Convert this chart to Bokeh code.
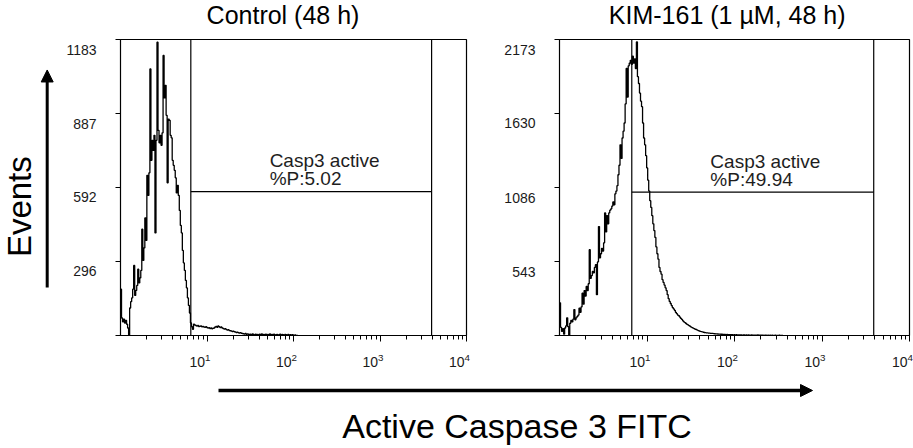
import numpy as np
from bokeh.plotting import figure
from bokeh.layouts import row, column
from bokeh.models import (Range1d, FixedTicker, Label, LogScale, LogAxis, LinearAxis,
                          Arrow, NormalHead, Span, CustomJSTickFormatter, LogTickFormatter)
from bokeh.embed import file_html
from bokeh.resources import INLINE

FONT = "Liberation Sans"

# ---------------- data ----------------
CHANNELS_PER_DECADE = 256   # 1024 channels over 4 decades
CHANNELS_PER_BIN = 3

panel_titles = ["Control (48 h)", "KIM-161 (1 µM, 48 h)"]
y_label = "Events"
x_label = "Active Caspase 3 FITC"
gate_name = "Casp3 active"
gate_pct = ["%P:5.02", "%P:49.94"]

ctrl_counts = [
    185, 70, 55, 65, 50, 60, 45, 30, 0, 110,
    135, 150, 185, 280, 160, 180, 200, 265, 210, 230,
    260, 425, 300, 350, 470, 380, 640, 560, 650, 1065,
    700, 780, 740, 800, 410, 780, 1172, 820, 770, 800,
    760, 810, 1119, 950, 1000, 880, 610, 865, 860, 800,
    790, 700, 680, 660, 630, 570, 600, 560, 500, 440,
    410, 340, 290, 260, 220, 190, 150, 120, 90, 50,
    35, 25,
    45, 42, 40, 38, 40, 36, 37,
    38, 35, 36, 34, 33, 35, 32,
    30, 31, 28, 30, 27, 29, 30,
    34, 36, 33, 38, 35, 32, 34,
    30, 28, 26, 27, 24, 22, 23,
    20, 19, 18, 16, 17, 15, 14,
    12, 13, 11, 10, 11, 9, 8,
    7, 6, 8, 5, 6, 5, 4,
    5, 3, 6, 4, 2, 5, 3,
    4, 2, 5, 3, 6, 2, 4,
    3, 5, 2, 4, 3, 6, 2,
    4, 3, 5, 2, 3, 4, 2,
    3, 5, 2, 4, 3, 2, 4,
    3, 2, 4, 2, 3, 2, 3,
    2, 1, 2, 0, 0,
]

kim_counts = [
    240, 60, 30, 50, 10, 55, 70, 130, 65, 0,
    90, 110, 100, 120, 190, 115, 130, 140, 150, 200,
    170, 210, 310, 230, 330, 290, 360, 330, 380, 630,
    420, 440, 470, 460, 500, 520, 300, 540, 800, 570,
    600, 640, 620, 680, 900, 760, 880, 820, 900, 920,
    930, 950, 980, 960, 1040, 1060, 1100, 1180, 1250, 1400,
    1300, 1450, 1500, 1560, 1700, 1960, 1750, 1980, 2000, 2020,
    1990, 2050, 2000, 2030, 1960, 2155, 1900, 1850, 1780, 1720,
    1680, 1560, 1450, 1400, 1320, 1230, 1140, 1060, 990, 940,
    880, 820, 770, 720, 650, 600, 560, 500, 470, 450,
    410, 390, 370, 350, 330, 300,
    270, 250, 235, 220, 205, 195, 185,
    170, 160, 150, 145, 135, 125, 118,
    108, 100, 95, 88, 82, 78, 72,
    68, 62, 58, 54, 50, 46, 44,
    40, 36, 33, 30, 28, 26, 24,
    22, 21, 20, 19, 18, 17, 16,
    15, 15, 14, 13, 12, 12, 11,
    10, 10, 9, 9, 8, 8, 8,
    7, 8, 6, 7, 6, 7, 6,
    5, 6, 5, 6, 4, 5, 4,
    5, 4, 3, 5, 4, 3, 4,
    3, 4, 2, 3, 4, 2, 3,
    2, 3, 2, 4, 2, 3, 2,
    3, 2, 1, 3, 2, 1, 2,
    1, 2, 0, 2, 1, 0, 2,
    1, 0, 1, 2, 0, 1, 0,
]

ctrl_y_ticks = [296, 592, 887, 1183]
kim_y_ticks = [543, 1086, 1630, 2173]

x_tick_values = [10, 100, 1000, 10000]

# gate: (left edge, right edge, marker height in events)
ctrl_gate = (6.5, 3950, 575)
kim_gate = (6.7, 3900, 1052)

# ---------------- layout constants ----------------
ROW_H = 340
B_TOP = 9
B_BOTTOM = 35
FRAME_H = ROW_H - B_TOP - B_BOTTOM
GATE_TEXT_X = 53.0
YLAB_DROP_PX = 10      # tick labels sit a little below their ticks
XLAB_SHIFT_PX = 7      # and a little left of them


def strip(width, height):
    s = figure(width=width, height=height, x_range=Range1d(0, width),
               y_range=Range1d(0, height), x_axis_type=None, y_axis_type=None,
               toolbar_location=None, output_backend="svg", title=None, min_border=0)
    s.outline_line_color = None
    s.background_fill_color = "white"
    s.border_fill_color = "white"
    return s


def make_panel(counts, yticks, gate, pct, width, b_left, b_right):
    ymax = yticks[-1]
    p = figure(width=width, height=ROW_H, x_axis_type="log",
               x_range=Range1d(1, 1e4), y_range=Range1d(0, ymax),
               toolbar_location=None, output_backend="svg", title=None,
               min_border_left=b_left, min_border_right=b_right,
               min_border_top=B_TOP, min_border_bottom=B_BOTTOM)
    p.grid.visible = False
    p.background_fill_color = "white"
    p.border_fill_color = "white"
    p.outline_line_color = "black"
    p.outline_line_width = 1.2
    frame_w = width - b_left - b_right
    px_per_dec = frame_w / 4.0

    decades = [1, 10, 100, 1000, 10000]
    minors = [m * d for d in decades[:-1] for m in range(2, 10)]
    blank = CustomJSTickFormatter(code="return ''")

    # tick-only axes
    xa = p.xaxis[0]
    xa.ticker = FixedTicker(ticks=decades[1:], minor_ticks=minors)
    xa.formatter = blank
    xa.major_label_text_font_size = "1px"
    xa.major_label_standoff = 0
    xa.major_tick_in = 0
    xa.major_tick_out = 6
    xa.minor_tick_in = 0
    xa.minor_tick_out = 4
    xa.axis_line_color = "black"
    xa.axis_line_width = 1.2
    xa.major_tick_line_color = "black"
    xa.minor_tick_line_color = "black"

    ya = p.yaxis[0]
    ya.ticker = FixedTicker(ticks=[0] + yticks, minor_ticks=[])
    ya.formatter = blank
    ya.major_label_text_font_size = "1px"
    ya.major_label_standoff = 0
    ya.major_tick_in = 0
    ya.major_tick_out = 5
    ya.minor_tick_out = 0
    ya.axis_line_color = "black"
    ya.major_tick_line_color = "black"

    # label-only axes on slightly offset ranges
    f = 10 ** (XLAB_SHIFT_PX / px_per_dec)
    d = YLAB_DROP_PX * ymax / FRAME_H
    p.extra_x_ranges = {"lbl": Range1d(1 * f, 1e4 * f)}
    p.extra_x_scales = {"lbl": LogScale()}
    p.extra_y_ranges = {"lbl": Range1d(d, ymax + d)}

    xl = LogAxis(x_range_name="lbl", ticker=FixedTicker(ticks=x_tick_values, minor_ticks=[]),
                 formatter=LogTickFormatter())
    xl.axis_line_color = None
    xl.major_tick_out = 0
    xl.major_tick_in = 0
    xl.minor_tick_out = 0
    xl.minor_tick_in = 0
    xl.major_label_standoff = 11
    xl.major_label_text_font = FONT
    xl.major_label_text_font_size = "14px"
    xl.major_label_text_color = "#1a1a1a"
    p.add_layout(xl, "below")

    yl = LinearAxis(y_range_name="lbl", ticker=FixedTicker(ticks=yticks, minor_ticks=[]))
    yl.axis_line_color = None
    yl.major_tick_out = 0
    yl.major_tick_in = 0
    yl.minor_tick_out = 0
    yl.minor_tick_in = 0
    yl.major_label_standoff = 19
    yl.major_label_text_font = FONT
    yl.major_label_text_font_size = "14px"
    yl.major_label_text_color = "#1a1a1a"
    p.add_layout(yl, "left")

    # histogram as a step outline
    nb = len(counts)
    edges = 10 ** (np.arange(nb + 1) * CHANNELS_PER_BIN / CHANNELS_PER_DECADE)
    p.step(x=edges, y=list(counts) + [0], mode="after",
           line_color="black", line_width=1.3)

    # gate marker
    lo, hi, gy = gate
    for loc in (lo, hi):
        p.add_layout(Span(location=loc, dimension="height",
                          line_color="black", line_width=1.2))
    p.segment(x0=[lo], y0=[gy], x1=[hi], y1=[gy], line_color="black", line_width=1.2)

    p.add_layout(Label(x=GATE_TEXT_X, y=gy, text=gate_name, y_offset=31,
                       text_font=FONT, text_font_size="19px",
                       text_baseline="middle", text_color="#1e1e1e"))
    p.add_layout(Label(x=GATE_TEXT_X, y=gy, text=pct, y_offset=13,
                       text_font=FONT, text_font_size="19px",
                       text_baseline="middle", text_color="#1e1e1e"))
    return p


p1 = make_panel(ctrl_counts, ctrl_y_ticks, ctrl_gate, gate_pct[0],
                width=440, b_left=60, b_right=34)
p2 = make_panel(kim_counts, kim_y_ticks, kim_gate, gate_pct[1],
                width=413, b_left=59, b_right=4)

# top strip: panel titles
pt = strip(913, 30)
for tx, ttl in zip([282.5, 726.7], panel_titles):
    pt.add_layout(Label(x=tx, y=15.5, text=ttl, text_align="center",
                        text_baseline="middle", text_font=FONT,
                        text_font_size="25px", text_color="black"))

# left strip: "Events" with upward arrow
p0 = strip(60, ROW_H)
p0.add_layout(Label(x=19, y=148, text=y_label, angle=np.pi / 2,
                    text_align="center", text_baseline="middle",
                    text_font=FONT, text_font_size="33px", text_color="black"))
p0.add_layout(Arrow(end=NormalHead(size=12, fill_color="black", line_color="black"),
                    x_start=46.7, y_start=55, x_end=46.7, y_end=305,
                    line_color="black", line_width=3))

# bottom strip: x label with right arrow
p3 = strip(913, 78)
p3.add_layout(Arrow(end=NormalHead(size=12, fill_color="black", line_color="black"),
                    x_start=218, y_start=58, x_end=812, y_end=58,
                    line_color="black", line_width=3.5))
p3.add_layout(Label(x=516.5, y=23, text=x_label, text_align="center",
                    text_baseline="middle", text_font=FONT,
                    text_font_size="34px", text_color="black"))

layout = column(pt, row(p0, p1, p2), p3)

open("out.html", "w").write(file_html(layout, INLINE))
